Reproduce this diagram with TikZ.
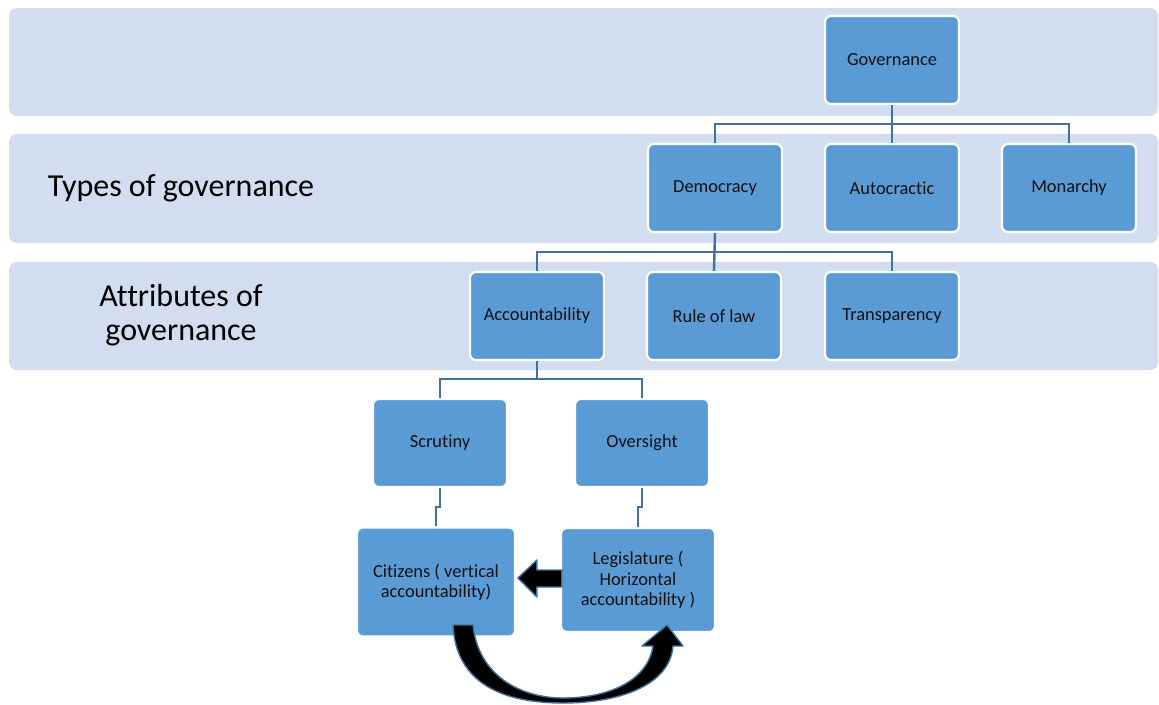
\documentclass[tikz,border=0pt]{standalone}
\usepackage{fontspec}
\setmainfont{Carlito}[Ligatures=NoCommon]

\definecolor{bandfill}{HTML}{D2DEEF}
\definecolor{boxfill}{HTML}{5B9BD5}
\definecolor{linkblue}{HTML}{41719C}
\definecolor{inktext}{HTML}{111111}

\tikzset{
  band/.style={fill=bandfill, rounded corners=8pt},
  box/.style={fill=boxfill, draw=white, line width=2.2pt, rounded corners=6pt,
    minimum width=134pt, minimum height=88pt, align=center, text=inktext,
    inner sep=2pt, font=\fontsize{18.4}{20.5}\selectfont},
  link/.style={draw=linkblue, line width=2.4pt},
  bigtext/.style={font=\fontsize{32}{34}\selectfont, align=center, text=black},
  blockarrow/.style={fill=black, draw=linkblue, line width=1.4pt, line join=round}
}

\begin{document}
\begin{tikzpicture}[x=1pt,y=-1pt]
    \useasboundingbox (0,0) rectangle (1159,704);

    % bands
    \fill[band] (9,8) rectangle (1158,116);
    \fill[band] (9,134) rectangle (1158,243);
    \fill[band] (9,262) rectangle (1158,370);

    \node[bigtext] (types) at (181,188) {Types of governance};
    \node[bigtext] (attr)  at (181,315) {Attributes of\\governance};

    % tree
    \node[box] (gov) at (892,60)  {Governance};

    \node[box] (dem) at (715,188)  {Democracy};
    \node[box] (aut) at (892,188)  {Autocractic};
    \node[box] (mon) at (1069,188) {Monarchy};

    \node[box] (acc) at (537,316) {Accountability};
    \node[box] (rol) at (714,316) {Rule of law};
    \node[box] (tra) at (892,316) {Transparency};

    \node[box] (scr) at (440,443) {Scrutiny};
    \node[box] (ovs) at (642,443) {Oversight};

    \node[box, minimum width=158pt, minimum height=109pt] (cit) at (436,582)
        {Citizens ( vertical\\accountability)};
    \node[box, minimum width=154pt, minimum height=104pt] (leg) at (638,580)
        {Legislature (\\Horizontal\\accountability )};

    \draw[link] (gov.south) -- ++(0,19) -| (dem.north);
    \draw[link] (gov.south) -- (aut.north);
    \draw[link] (gov.south) -- ++(0,19) -| (mon.north);

    \draw[link] (dem.south) -- ++(0,19) -| (acc.north);
    \draw[link] (dem.south) -- (rol.north);
    \draw[link] (dem.south) -- ++(0,19) -| (tra.north);

    \draw[link] (acc.south) -- ++(0,18) -| (scr.north);
    \draw[link] (acc.south) -- ++(0,18) -| (ovs.north);

    \draw[link] (scr.south) -- ++(0,19) -| (cit.north);
    \draw[link] (ovs.south) -- ++(0,19) -| (leg.north);

    % arrows between citizens and legislature
    \begin{scope}[shift={(leg.west)}]
      \filldraw[blockarrow] (2,-10) -- (-23,-10) -- (-23,-20) -- (-42,-2)
          -- (-23,17) -- (-23,7) -- (2,7) -- cycle;
    \end{scope}
    \filldraw[blockarrow]
        (453,625) .. controls (456,685) and (505,703) .. (563,703)
        .. controls (620,703) and (670,685) .. (673,646)
        -- (683,646) -- (667,625) -- (642,646) -- (653,646)
        .. controls (648,680) and (610,698) .. (563,698)
        .. controls (520,698) and (478,675) .. (473,625)
        -- cycle;
\end{tikzpicture}
\end{document}
